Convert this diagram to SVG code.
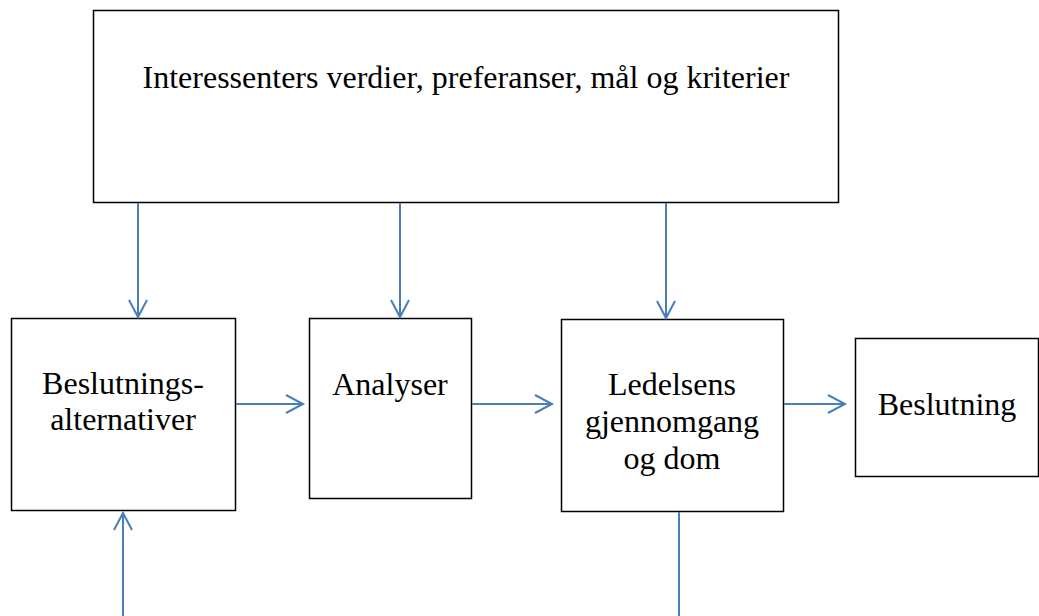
<svg xmlns="http://www.w3.org/2000/svg" width="1039" height="616" viewBox="0 0 1039 616">
<style>
.box{fill:#fff;stroke:#000;stroke-width:1.5}
.t{font-family:"Liberation Serif","Times New Roman",serif;font-size:32px;fill:#000;text-anchor:middle}
.c{fill:none;stroke:#4A7EBB;stroke-width:2}
</style>
<defs>
<marker id="ah" markerUnits="userSpaceOnUse" markerWidth="24" markerHeight="24" viewBox="-20 -12 24 24" refX="0" refY="0" orient="auto">
<path d="M-17,-9 L0,0 L-17,9" fill="none" stroke="#4A7EBB" stroke-width="2"/>
</marker>
</defs>
<g id="n-top"><rect class="box" x="93.5" y="10.5" width="745" height="192"/><text class="t" x="466" y="88">Interessenters verdier, preferanser, mål og kriterier</text></g>
<g id="n-alt"><rect class="box" x="11.5" y="318.5" width="224" height="192"/><text class="t" x="123" y="394">Beslutnings-</text><text class="t" x="123" y="430">alternativer</text></g>
<g id="n-analyser"><rect class="box" x="309.5" y="318.5" width="162" height="180"/><text class="t" x="390" y="395">Analyser</text></g>
<g id="n-ledelse"><rect class="box" x="561.5" y="319.5" width="222" height="192"/><text class="t" x="672" y="395">Ledelsens</text><text class="t" x="672" y="432">gjennomgang</text><text class="t" x="672" y="469">og dom</text></g>
<g id="n-beslutning"><rect class="box" x="855.5" y="338.5" width="183" height="138"/><text class="t" x="947" y="415">Beslutning</text></g>
<g id="connectors">
<path class="c" d="M138,203 V317" marker-end="url(#ah)"/>
<path class="c" d="M400,203 V317" marker-end="url(#ah)"/>
<path class="c" d="M666,203 V318" marker-end="url(#ah)"/>
<path class="c" d="M236,404 H303" marker-end="url(#ah)"/>
<path class="c" d="M472,404 H552" marker-end="url(#ah)"/>
<path class="c" d="M784,404 H845" marker-end="url(#ah)"/>
<path class="c" d="M123,616 V513" marker-end="url(#ah)"/>
<path class="c" d="M679,512 V616"/>
</g>
</svg>
